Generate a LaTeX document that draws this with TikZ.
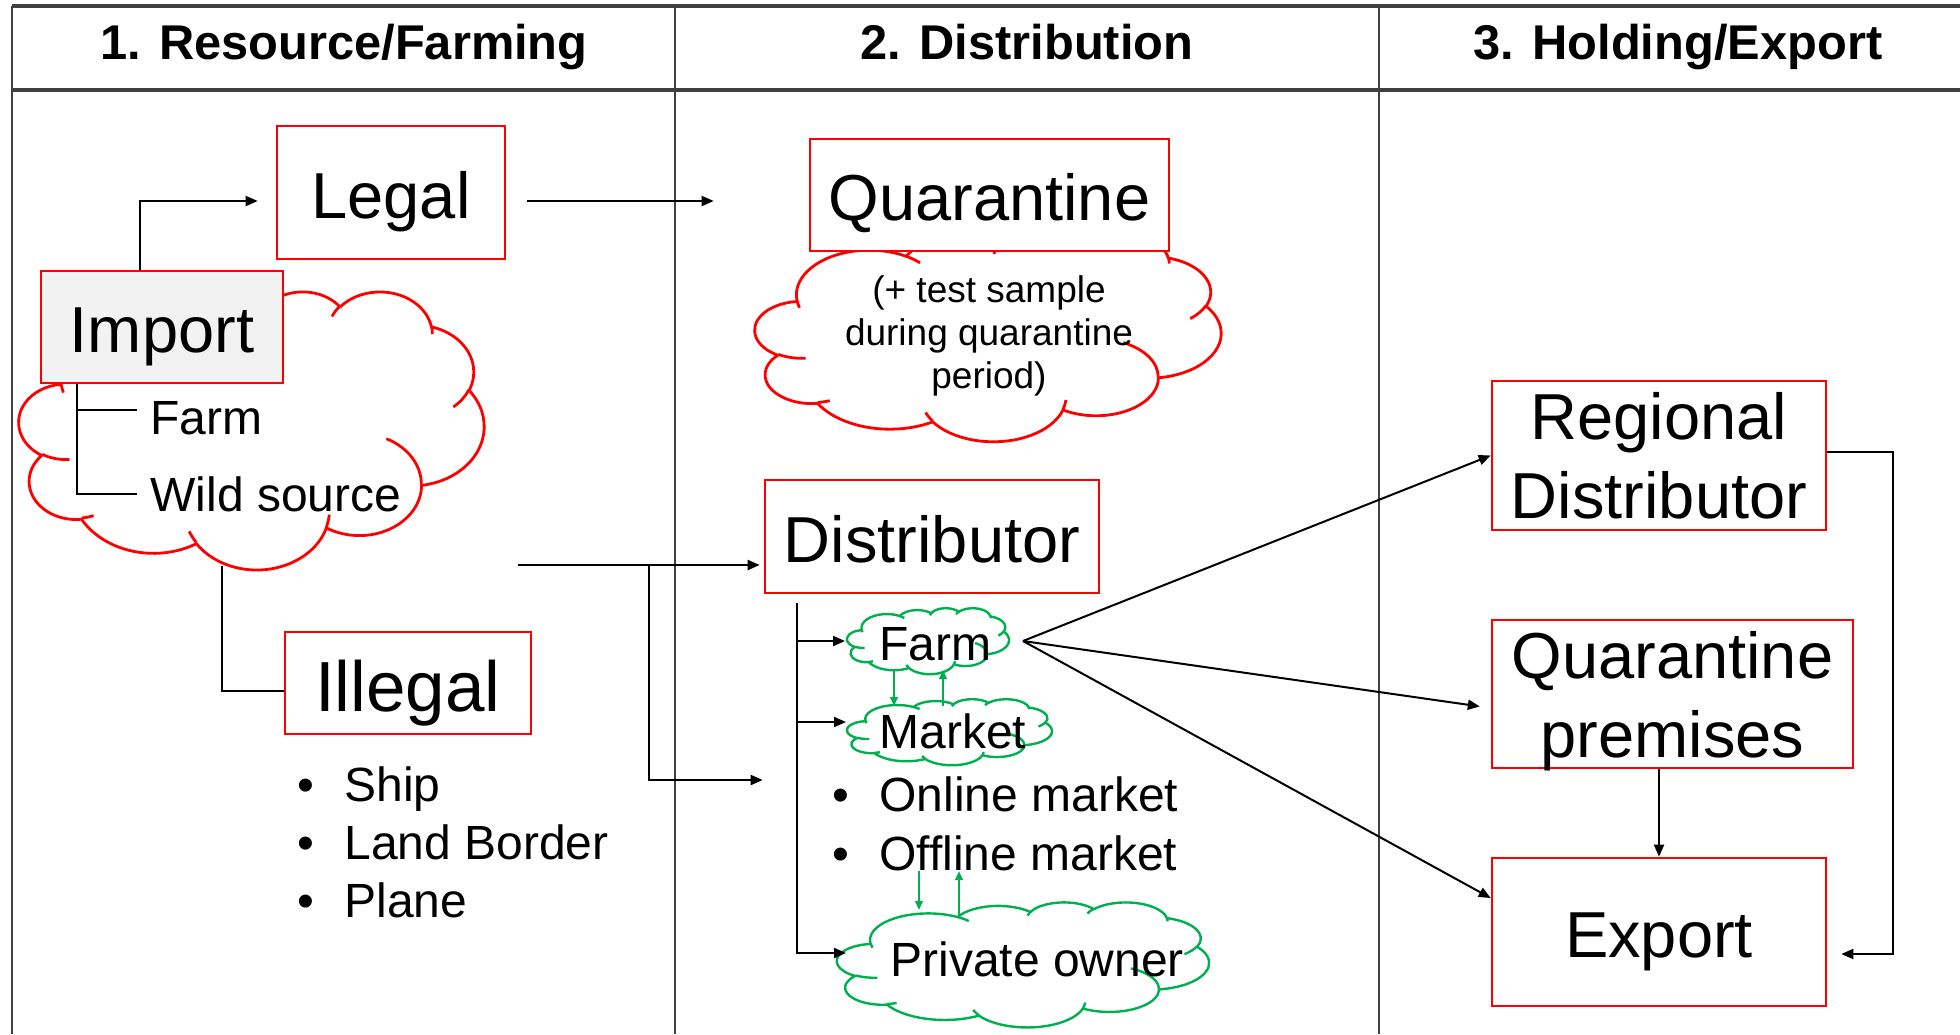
\documentclass[tikz,border=0pt]{standalone}
\usepackage{fontspec}
\setmainfont{Liberation Sans}
\usetikzlibrary{arrows.meta}
\definecolor{grn}{HTML}{00B050}
\definecolor{rulegray}{HTML}{404040}
\definecolor{impfill}{HTML}{F2F2F2}
\newcommand\bulitem{\makebox[23.5pt][l]{•}}

% elliptical arc given by radii and by start/sweep angles measured as directions
\newcommand\pparc[4]{%
  \pgfextra{%
    \pgfmathsetmacro\pparcs{atan2((#1)*sin(#3),(#2)*cos(#3))}%
    \pgfmathsetmacro\pparce{atan2((#1)*sin((#3)+(#4)),(#2)*cos((#3)+(#4)))}%
    \pgfmathsetmacro\pparcd{mod(\pparce-\pparcs+720,360)}%
    \global\let\pparcs\pparcs \global\let\pparcd\pparcd}%
  arc[start angle=\pparcs, delta angle=\pparcd, x radius=#1, y radius=#2]}

% cloud outline in a 432 x 432 frame
\def\cloudouter{(39,143.7)
  \pparc{67.53}{91.90}{-190.4875}{123.7805}
  \pparc{53.33}{72.67}{-144.1024}{89.9452}
  \pparc{43.65}{59.45}{-145.8079}{99.7230}
  \pparc{48.57}{65.95}{-130.9861}{117.2417}
  \pparc{53.33}{72.73}{-78.7089}{109.0269}
  \pparc{67.75}{92.20}{-46.2673}{130.2690}
  \pparc{57.85}{78.67}{0.6250}{114.0333}
  \pparc{67.52}{92.15}{22.4516}{115.1726}
  \pparc{77.20}{105.43}{66.2426}{75.7110}
  \pparc{43.60}{59.18}{-274.9421}{146.7356}
  \pparc{43.45}{59.45}{-246.8285}{152.5195}
  -- cycle}
% the short hooks where puffs meet
\def\cloudhooks{
  (46.93,261.77) \pparc{43.45}{59.45}{86.7420}{26.4295}
  (69.28,348.99) \pparc{43.60}{59.18}{73.6105}{11.4475}
  (164.78,390.90) \pparc{67.52}{92.15}{137.6242}{14.0811}
  (288.27,347.51) \pparc{67.52}{92.15}{6.4533}{15.9984}
  (341.29,229.54) \pparc{57.85}{78.67}{-70.2924}{70.9174}
  (417.98,153.54) \pparc{53.33}{72.73}{30.3180}{27.7515}
  (383.24,54.26) \pparc{48.57}{65.95}{-13.7443}{14.8589}
  (290.78,39.52) \pparc{48.57}{65.95}{-149.1815}{18.1954}
  (221.41,47.20) \pparc{43.65}{59.45}{-163.4943}{17.6864}
  (140.00,51.92) \pparc{67.53}{91.90}{-66.7070}{12.3194}
  (41.27,157.89) \pparc{67.53}{91.90}{157.6544}{11.8582}}

% name, centre x, centre y, width, height, stroke style
\newcommand\pptcloud[6]{%
  \node[inner sep=0pt, outer sep=0pt, minimum width=#4*0.5pt, minimum height=#5*0.5pt] (#1) at (#2,#3) {};
  \begin{scope}[shift={({#2-#4/2},{#3-#5/2})}, xscale=#4/432, yscale=#5/432]
    \filldraw[fill=white, line join=round, #6] \cloudouter;
    \draw[line join=round, #6] \cloudhooks;
  \end{scope}}

\begin{document}
\begin{tikzpicture}[x=0.5pt, y=-0.5pt,
  rulethin/.style={draw=rulegray, line width=1pt},
  rulethick/.style={draw=rulegray, line width=1.8pt},
  hdr/.style={inner sep=0pt, font=\fontsize{24.4}{29}\selectfont\bfseries},
  redbox/.style={draw=red, line width=1.3pt, fill=white, inner sep=0pt, align=center,
    font=\fontsize{32.5}{39.5}\selectfont},
  onebox/.style={redbox, text height=25.8pt, text depth=0pt},
  redline/.style={draw=red, line width=1.4pt},
  grnline/.style={draw=grn, line width=1.2pt},
  lbl/.style={inner sep=0pt, font=\fontsize{24}{29}\selectfont},
  conn/.style={line width=1pt},
  arr/.style={-{Triangle[length=6pt,width=5pt]}, line width=1pt},
  garr/.style={-{Triangle[length=4.5pt,width=3.8pt]}, draw=grn, line width=1pt}]
\useasboundingbox (0,0) rectangle (1960,1034);
\fill[white] (0,0) rectangle (1960,1034);

% table rules
\draw[rulethin] (12,6) -- (12,1034);
\draw[rulethin] (675,6) -- (675,1034);
\draw[rulethin] (1379,6) -- (1379,1034);
\draw[rulethick] (12,6) -- (1960,6);
\draw[rulethick] (12,90) -- (1960,90);

% column headings
\node[hdr, anchor=base] (h1) at (344,59) {1. Resource/Farming};
\node[hdr, anchor=base] (h2) at (1027,59) {2. Distribution};
\node[hdr, anchor=base] (h3) at (1678,59) {3. Holding/Export};

% clouds
\pptcloud{icloud}{251.5}{430}{465}{278}{redline}
\pptcloud{qcloud}{988}{336}{466}{210}{redline}
\pptcloud{farmc}{928}{641}{162}{66}{grnline}
\pptcloud{mkt}{949.5}{732}{205}{66}{grnline}
\pptcloud{owner}{1023}{964.5}{372}{125}{grnline}

% boxes
\node[onebox, fill=impfill, minimum width=121pt, minimum height=56pt] (imp) at (162,327) {Import};
\node[onebox, minimum width=114pt, minimum height=66.5pt] (legal) at (391,192.5) {Legal};
\node[onebox, minimum width=123pt, minimum height=51pt, text height=28.4pt,
  font=\fontsize{35.5}{42}\selectfont] (ill) at (408,683) {Illegal};
\node[onebox, minimum width=179.5pt, minimum height=56pt] (qbox) at (989.5,195) {Quarantine};
\node[onebox, minimum width=167pt, minimum height=56.5pt] (dist) at (932,536.5) {Distributor};
\node[redbox, minimum width=167pt, minimum height=74.5pt] (rd) at (1659,455.5) {Regional\\Distributor};
\node[redbox, minimum width=180.5pt, minimum height=74pt] (qp) at (1672.5,694)
  {Quarantine\\\raisebox{0pt}[\height][0pt]{premises}};
\node[onebox, minimum width=167pt, minimum height=74pt] (ex) at (1659,932) {Export};

% texts
\node[lbl, anchor=west] (ifarm) at (150,418) {Farm};
\node[lbl, anchor=west] (wild) at (150,494) {Wild source};
\node[lbl, anchor=west] (gfarm) at (879,644) {Farm};
\node[lbl, anchor=west] (gmkt) at (879,731) {Market};
\node[lbl, anchor=west] (gown) at (890,959) {Private owner};
\node[lbl, anchor=west, align=left] (ilist) at (297,842)
  {\bulitem Ship\\\bulitem Land Border\\\bulitem Plane};
\node[lbl, anchor=west, align=left, font=\fontsize{24}{29.5}\selectfont] (mlist) at (832,823.5)
  {\bulitem Online market\\\bulitem Offline market};
\node[inner sep=0pt, align=center, font=\fontsize{18.5}{21.5}\selectfont] (qnote) at (989,336)
  {(+ test sample\\during quarantine\\period)};

% import tree
\coordinate (it) at ([xshift=-42.5pt]imp.south);
\coordinate (fb) at ([yshift=4pt]ifarm.west);
\draw[conn, shorten >=6.5pt] (it) |- (wild.west);
\draw[conn, shorten >=6.5pt] (it |- fb) -- (fb);

% resource connectors
\draw[arr, shorten >=9pt] ([xshift=-11pt]imp.north) |- ([yshift=-4.25pt]legal.west);
\draw[arr, shorten <=10.5pt, shorten >=47.5pt] ([yshift=-4.25pt]legal.east) -- ([yshift=-3pt]qbox.west);
\coordinate (ilsrc) at ([shift={(-30,-3)}]icloud.south);
\draw[conn] (ilsrc) |- ([yshift=-4pt]ill.west);
\coordinate (src) at ([shift={(266,135)}]icloud.center);
\draw[arr, shorten >=2pt] (src) -- (src -| dist.west);
\coordinate (br) at ([xshift=65.5pt]src);
\coordinate (brend) at ([shift={(-1,243.5)}]dist.west);
\draw[arr] (br) |- (brend);

% distributor tree
\coordinate (dt) at ([shift={(33,9)}]dist.south west);
\coordinate (mw) at ([shift={(-1,-10)}]mkt.west);
\coordinate (ow) at ([shift={(9,-11.5)}]owner.west);
\draw[arr] (dt) |- (ow);
\draw[arr, shorten >=1pt] (dt |- farmc.west) -- (farmc.west);
\draw[arr] (dt |- mw) -- (mw);

% green exchanges
\draw[garr] ([shift={(-34,-4)}]farmc.south) -- ([shift={(-55.5,7)}]mkt.north);
\draw[garr] ([shift={(-6.5,7)}]mkt.north) -- ([shift={(15,-4)}]farmc.south);
\draw[garr] ([shift={(-104,-31)}]owner.north) -- ([shift={(-104,8)}]owner.north);
\draw[garr] ([shift={(-64,13)}]owner.north) -- ([shift={(-64,-31)}]owner.north);

% holding / export
\coordinate (fan) at ([xshift=7pt]farmc.east);
\draw[arr] (fan) -- (rd.west);
\draw[arr, shorten >=5.5pt] (fan) -- ([yshift=-7pt]qp.west);
\draw[arr] (fan) -- ([yshift=17pt]ex.west);
\draw[arr] (qp.south -| ex.north) -- (ex.north);
\draw[arr, shorten >=7pt] ([yshift=2pt]rd.east) -- ++(66,0) |- ([yshift=-11pt]ex.east);
\end{tikzpicture}
\end{document}
